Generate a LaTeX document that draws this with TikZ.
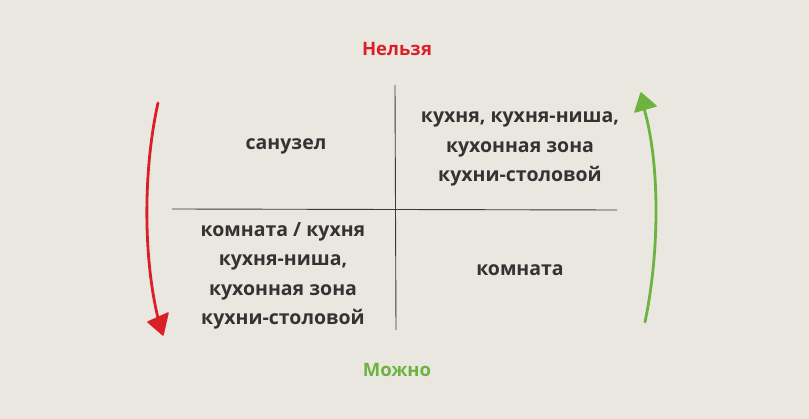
\documentclass[tikz,border=0pt]{standalone}
\usepackage{fontspec}
\setmainfont{Open Sans}
\definecolor{bg}{HTML}{EAE7E0}
\definecolor{txt}{HTML}{333333}
\definecolor{redc}{HTML}{DA1F26}
\definecolor{greenc}{HTML}{6DB33F}
\definecolor{linec}{HTML}{3A3A3A}
\tikzset{
  cell/.style={align=center, text=txt, font=\fontsize{19.5}{29.5}\selectfont\bfseries, inner sep=0pt},
  title/.style={font=\fontsize{18.5}{22}\selectfont\bfseries, inner sep=0pt},
  axis/.style={draw=linec, line width=0.9pt},
  shaft/.style={line width=2.8pt, line cap=round},
  head/.style={line width=1.5pt, line join=round}
}
\begin{document}
\begin{tikzpicture}[x=1pt,y=-1pt]
\fill[bg] (0,0) rectangle (809,419);
\useasboundingbox (0,0) rectangle (809,419);
\node[title, text=redc] (no) at (397,49) {Нельзя};
\node[title, text=greenc] (yes) at (397,370) {Можно};
\coordinate (vt) at (395,85);
\coordinate (vb) at (396,330);
\coordinate (hl) at (172,209);
\coordinate (hr) at (617,210);
\draw[axis] (vt) -- (vb);
\draw[axis] (hl) -- (hr);
\node[cell] (tl) at (286,146) {санузел};
\node[cell] (tr) at (520,149) {кухня, кухня-ниша,\\кухонная зона\\кухни-столовой};
\node[cell] (bl) at (283,276) {комната / кухня\\кухня-ниша,\\кухонная зона\\кухни-столовой};
\node[cell] (br) at (520,270) {комната};
% red arrow
\coordinate (rs) at (158,103);
\coordinate (re) at (159,322);
\coordinate (rt) at (163,335);
\coordinate (rl) at (148,322);
\coordinate (rr) at (168,313);
\draw[shaft, draw=redc] (rs) .. controls (143,170) and (143,260) .. (re);
\filldraw[head, draw=redc, fill=redc] (rt) -- (rl) -- (rr) -- cycle;
% green arrow
\coordinate (gs) at (645,322);
\coordinate (ge) at (643,105);
\coordinate (gt) at (641,93);
\coordinate (gl) at (635,112);
\coordinate (gr) at (656,106);
\draw[shaft, draw=greenc] (gs) .. controls (660,250) and (660,160) .. (ge);
\filldraw[head, draw=greenc, fill=greenc] (gt) -- (gl) -- (gr) -- cycle;
\end{tikzpicture}
\end{document}
